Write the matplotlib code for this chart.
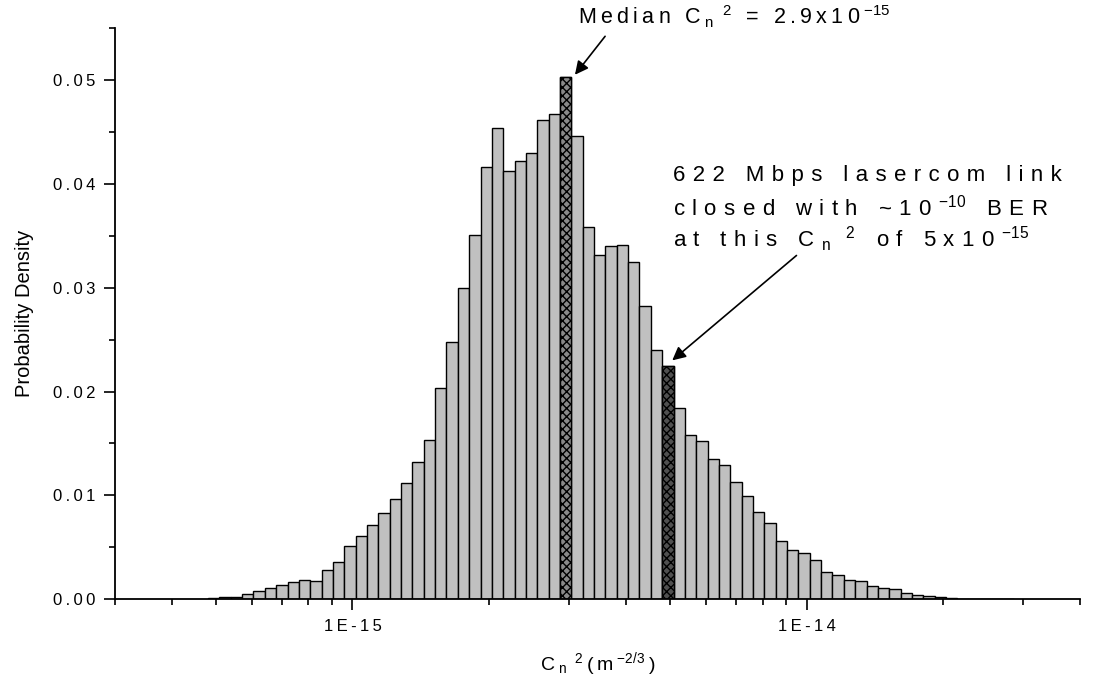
import numpy as np
import matplotlib
matplotlib.use('Agg')
import matplotlib.pyplot as plt
from matplotlib.ticker import LogLocator, MultipleLocator, FixedLocator, FixedFormatter, NullFormatter

plt.rcParams['font.family'] = ['Liberation Sans', 'DejaVu Sans']
plt.rcParams['mathtext.default'] = 'regular'

# histogram of log10(Cn2), bins of 0.025 decade
first_edge_log = -15.318
bin_width_log = 0.025
density = [0.0001, 0.0002, 0.00026, 0.00055, 0.00077, 0.0011, 0.00135, 0.0017,
           0.0019, 0.0018, 0.0028, 0.0036, 0.0051, 0.0061, 0.0072, 0.0083,
           0.0097, 0.0112, 0.0132, 0.0153, 0.0203, 0.0248, 0.0300, 0.0351,
           0.0416, 0.0454, 0.0412, 0.0422, 0.0430, 0.0461, 0.0467, 0.0503,
           0.0446, 0.0358, 0.0331, 0.0340, 0.0341, 0.0325, 0.0282, 0.0240,
           0.0225, 0.0184, 0.0158, 0.0152, 0.0135, 0.0129, 0.0113, 0.0099,
           0.0084, 0.0073, 0.0056, 0.0047, 0.0045, 0.0038, 0.0026, 0.0023,
           0.0019, 0.0018, 0.0013, 0.0011, 0.0010, 0.0006, 0.0004, 0.0003,
           0.0002, 0.00013, 0.00005, 0.00003, 0.00004, 0.00002, 0.00003]
median_bin = 31   # Cn2 = 2.9e-15
link_bin = 40     # Cn2 = 5e-15

x_major = [1e-15, 1e-14]
x_major_labels = ['1E-15', '1E-14']


def spaced(s, gap='\u2009'):
    # Origin-style letter spacing, only outside mathtext
    parts = s.split('$')
    out = ''
    for i, p in enumerate(parts):
        if i % 2 == 0:
            out += gap.join(p)
        else:
            out += gap + '$' + p + '$' + gap
    return out


n = len(density)
edges = 10 ** (first_edge_log + bin_width_log * np.arange(n + 1))
lefts = edges[:-1]
widths = np.diff(edges)

fig = plt.figure(figsize=(11.07, 6.83), dpi=100)
ax = fig.add_axes([115 / 1107, (683 - 599.3) / 683, 965 / 1107, (599.3 - 28) / 683])

ax.bar(lefts, density, width=widths, align='edge', color='#c0c0c0',
       edgecolor='black', linewidth=1.0)
ax.bar(lefts[median_bin], density[median_bin], width=widths[median_bin], align='edge',
       color='#8a8a8a', edgecolor='black', linewidth=1.0, hatch='xxxx')
ax.bar(lefts[link_bin], density[link_bin], width=widths[link_bin], align='edge',
       color='#505050', edgecolor='black', linewidth=1.0, hatch='xxxx')

ax.set_xscale('log')
ax.set_xlim(3e-16, 4e-14)
ax.set_ylim(0, 0.055)

ax.xaxis.set_major_locator(FixedLocator(x_major))
ax.xaxis.set_major_formatter(FixedFormatter([spaced(t) for t in x_major_labels]))
ax.xaxis.set_minor_locator(LogLocator(base=10, subs=np.arange(2, 10), numticks=20))
ax.xaxis.set_minor_formatter(NullFormatter())

ax.yaxis.set_minor_locator(MultipleLocator(0.005))
ax.set_yticks(np.arange(0, 0.051, 0.01))
ax.set_yticklabels([spaced('%.2f' % v) for v in np.arange(0, 0.051, 0.01)])

for s in ['top', 'right']:
    ax.spines[s].set_visible(False)
for s in ['left', 'bottom']:
    ax.spines[s].set_linewidth(1.3)

ax.tick_params(axis='both', which='major', direction='out', length=8, width=1.2,
               labelsize=12, pad=6)
ax.tick_params(axis='both', which='minor', direction='out', length=4, width=1.2)

ax.set_ylabel('Probability Density', fontsize=14.5, labelpad=14)
ax.set_xlabel(spaced('C$_n$$^2$(m$^{-2/3}$)'), fontsize=14, labelpad=12)

arrow = dict(arrowstyle='-|>', color='black', lw=1.2, mutation_scale=20,
             shrinkA=0, shrinkB=0)

# median annotation
ax.annotate('', xy=(3.09e-15, 0.0505), xytext=(3.6e-15, 0.0542),
            arrowprops=arrow, annotation_clip=False)
ax.text(3.14e-15, 0.0553, spaced('Median C$_n$$^2$ = 2.9x10$^{-15}$'),
        fontsize=15.5, ha='left', va='baseline', clip_on=False)

# link annotation
ax.annotate('', xy=(5.06e-15, 0.0230), xytext=(9.5e-15, 0.0331),
            arrowprops=arrow, annotation_clip=False)
link_lines = ['622 Mbps lasercom link',
              'closed with ~10$^{-10}$ BER',
              'at this C$_n$$^2$ of 5x10$^{-15}$']
link_y = [0.0408, 0.0377, 0.0347]
for line, yv in zip(link_lines, link_y):
    ax.text(5.08e-15, yv, spaced(line, '\u2004'), fontsize=16,
            ha='left', va='center')

fig.savefig('out.png', dpi=100)
